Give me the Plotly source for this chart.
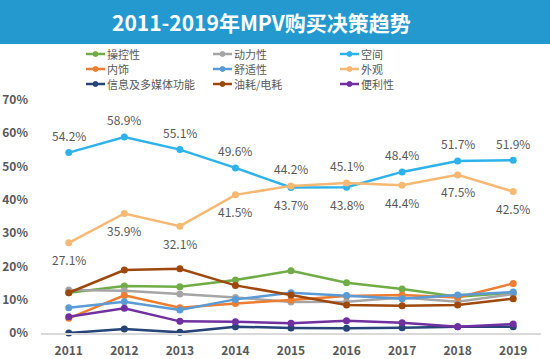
import plotly.graph_objects as go

years = ["2011", "2012", "2013", "2014", "2015", "2016", "2017", "2018", "2019"]

handling = [12.1, 14.1, 13.9, 15.9, 18.7, 15.1, 13.2, 10.9, 12.1]      # 操控性
power = [12.9, 12.7, 11.7, 10.7, 9.3, 9.4, 10.7, 9.4, 11.7]            # 动力性
space = [54.2, 58.9, 55.1, 49.6, 43.7, 43.8, 48.4, 51.7, 51.9]         # 空间
interior = [4.4, 11.3, 7.6, 8.9, 9.9, 11.1, 11.4, 10.7, 14.9]          # 内饰
comfort = [7.6, 9.4, 6.9, 10.1, 12.1, 11.3, 10.3, 11.4, 12.3]          # 舒适性
appearance = [27.1, 35.9, 32.1, 41.5, 44.2, 45.1, 44.4, 47.5, 42.5]    # 外观
infotain = [0.0, 1.2, 0.2, 1.9, 1.5, 1.4, 1.6, 1.9, 1.9]               # 信息及多媒体功能
fuel = [12.1, 18.9, 19.3, 14.3, 11.4, 8.4, 8.2, 8.4, 10.3]             # 油耗/电耗
convenience = [4.9, 7.4, 3.5, 3.4, 2.9, 3.7, 3.1, 1.9, 2.7]            # 便利性

# label placement for the two labelled series (+1 above, -1 below)
space_pos = [1, 1, 1, 1, -1, -1, 1, 1, 1]
appearance_pos = [-1, -1, -1, -1, 1, 1, -1, -1, -1]

series = [
    ("操控性", handling, "#70AD47"),
    ("动力性", power, "#A5A5A5"),
    ("空间", space, "#2DB3EA"),
    ("内饰", interior, "#ED7D31"),
    ("舒适性", comfort, "#5B9BD5"),
    ("外观", appearance, "#F5B973"),
    ("信息及多媒体功能", infotain, "#264478"),
    ("油耗/电耗", fuel, "#9E480E"),
    ("便利性", convenience, "#7030A0"),
]

W, H = 550, 359
ML, MR, MT, MB = 41, 9, 100, 26
PW, PH = W - ML - MR, H - MT - MB


def px_x(px):
    return (px - ML) / PW


def px_y(py):
    return (H - MB - py) / PH


FONT = "Noto Sans CJK SC, Noto Sans, sans-serif"
fig = go.Figure()

for name, vals, col in series:
    fig.add_trace(go.Scatter(
        x=years, y=vals, name=name, mode="lines+markers",
        line=dict(color=col, width=2.5),
        marker=dict(color=col, size=7),
        cliponaxis=False, showlegend=False,
    ))

annotations = []
for vals, pos in ((space, space_pos), (appearance, appearance_pos)):
    for i, (v, p) in enumerate(zip(vals, pos)):
        annotations.append(dict(
            x=i, y=v, xref="x", yref="y", text=f"{v}%", showarrow=False,
            yshift=17 * p, font=dict(family=FONT, size=12, color="#595959"),
        ))

shapes = []
# title bar
shapes.append(dict(type="rect", xref="paper", yref="paper",
                   x0=px_x(0), x1=px_x(W), y0=px_y(44), y1=px_y(0),
                   fillcolor="#2399CF", line=dict(width=0), layer="below"))
annotations.append(dict(
    xref="paper", yref="paper", x=px_x(261), y=px_y(22),
    text="<b>2011-2019年MPV购买决策趋势</b>", showarrow=False,
    font=dict(family=FONT, size=21, color="white"),
    xanchor="center", yanchor="middle",
))

# custom legend: 3 columns x 3 rows
col_x = [86, 213, 340]
row_y = [54, 69, 84]
for i, (name, vals, col) in enumerate(series):
    cx = col_x[i % 3]
    cy = row_y[i // 3]
    shapes.append(dict(type="line", xref="paper", yref="paper",
                       x0=px_x(cx), x1=px_x(cx + 19), y0=px_y(cy), y1=px_y(cy),
                       line=dict(color=col, width=2.5)))
    shapes.append(dict(type="circle", xref="paper", yref="paper",
                       x0=px_x(cx + 7), x1=px_x(cx + 12),
                       y0=px_y(cy + 2.5), y1=px_y(cy - 2.5),
                       fillcolor=col, line=dict(color=col, width=1)))
    annotations.append(dict(
        xref="paper", yref="paper", x=px_x(cx + 20), y=px_y(cy),
        text=name, showarrow=False, xanchor="left", yanchor="middle",
        font=dict(family=FONT, size=11, color="#595959"),
        borderpad=0,
    ))

fig.update_layout(
    width=W, height=H, autosize=False,
    margin=dict(l=ML, r=MR, t=MT, b=MB),
    paper_bgcolor="white", plot_bgcolor="white",
    shapes=shapes, annotations=annotations,
    showlegend=False,
    xaxis=dict(
        type="category", range=[-0.5, 8.5], showgrid=False,
        showline=True, linecolor="#D9D9D9", linewidth=1.5,
        ticks="", ticklabelstandoff=6, automargin=False,
        tickfont=dict(family=FONT, size=12, color="#595959", weight="bold"),
        zeroline=False,
    ),
    yaxis=dict(
        range=[0, 70], dtick=10, ticksuffix="%", showgrid=False,
        zeroline=False, showline=False, ticks="", ticklabelstandoff=12,
        automargin=False,
        tickfont=dict(family=FONT, size=12, color="#595959", weight="bold"),
    ),
)

fig.write_html(
    "out.html",
    config={"displayModeBar": False},
    post_script="document.body.style.margin='0';document.body.style.overflow='hidden';",
)
